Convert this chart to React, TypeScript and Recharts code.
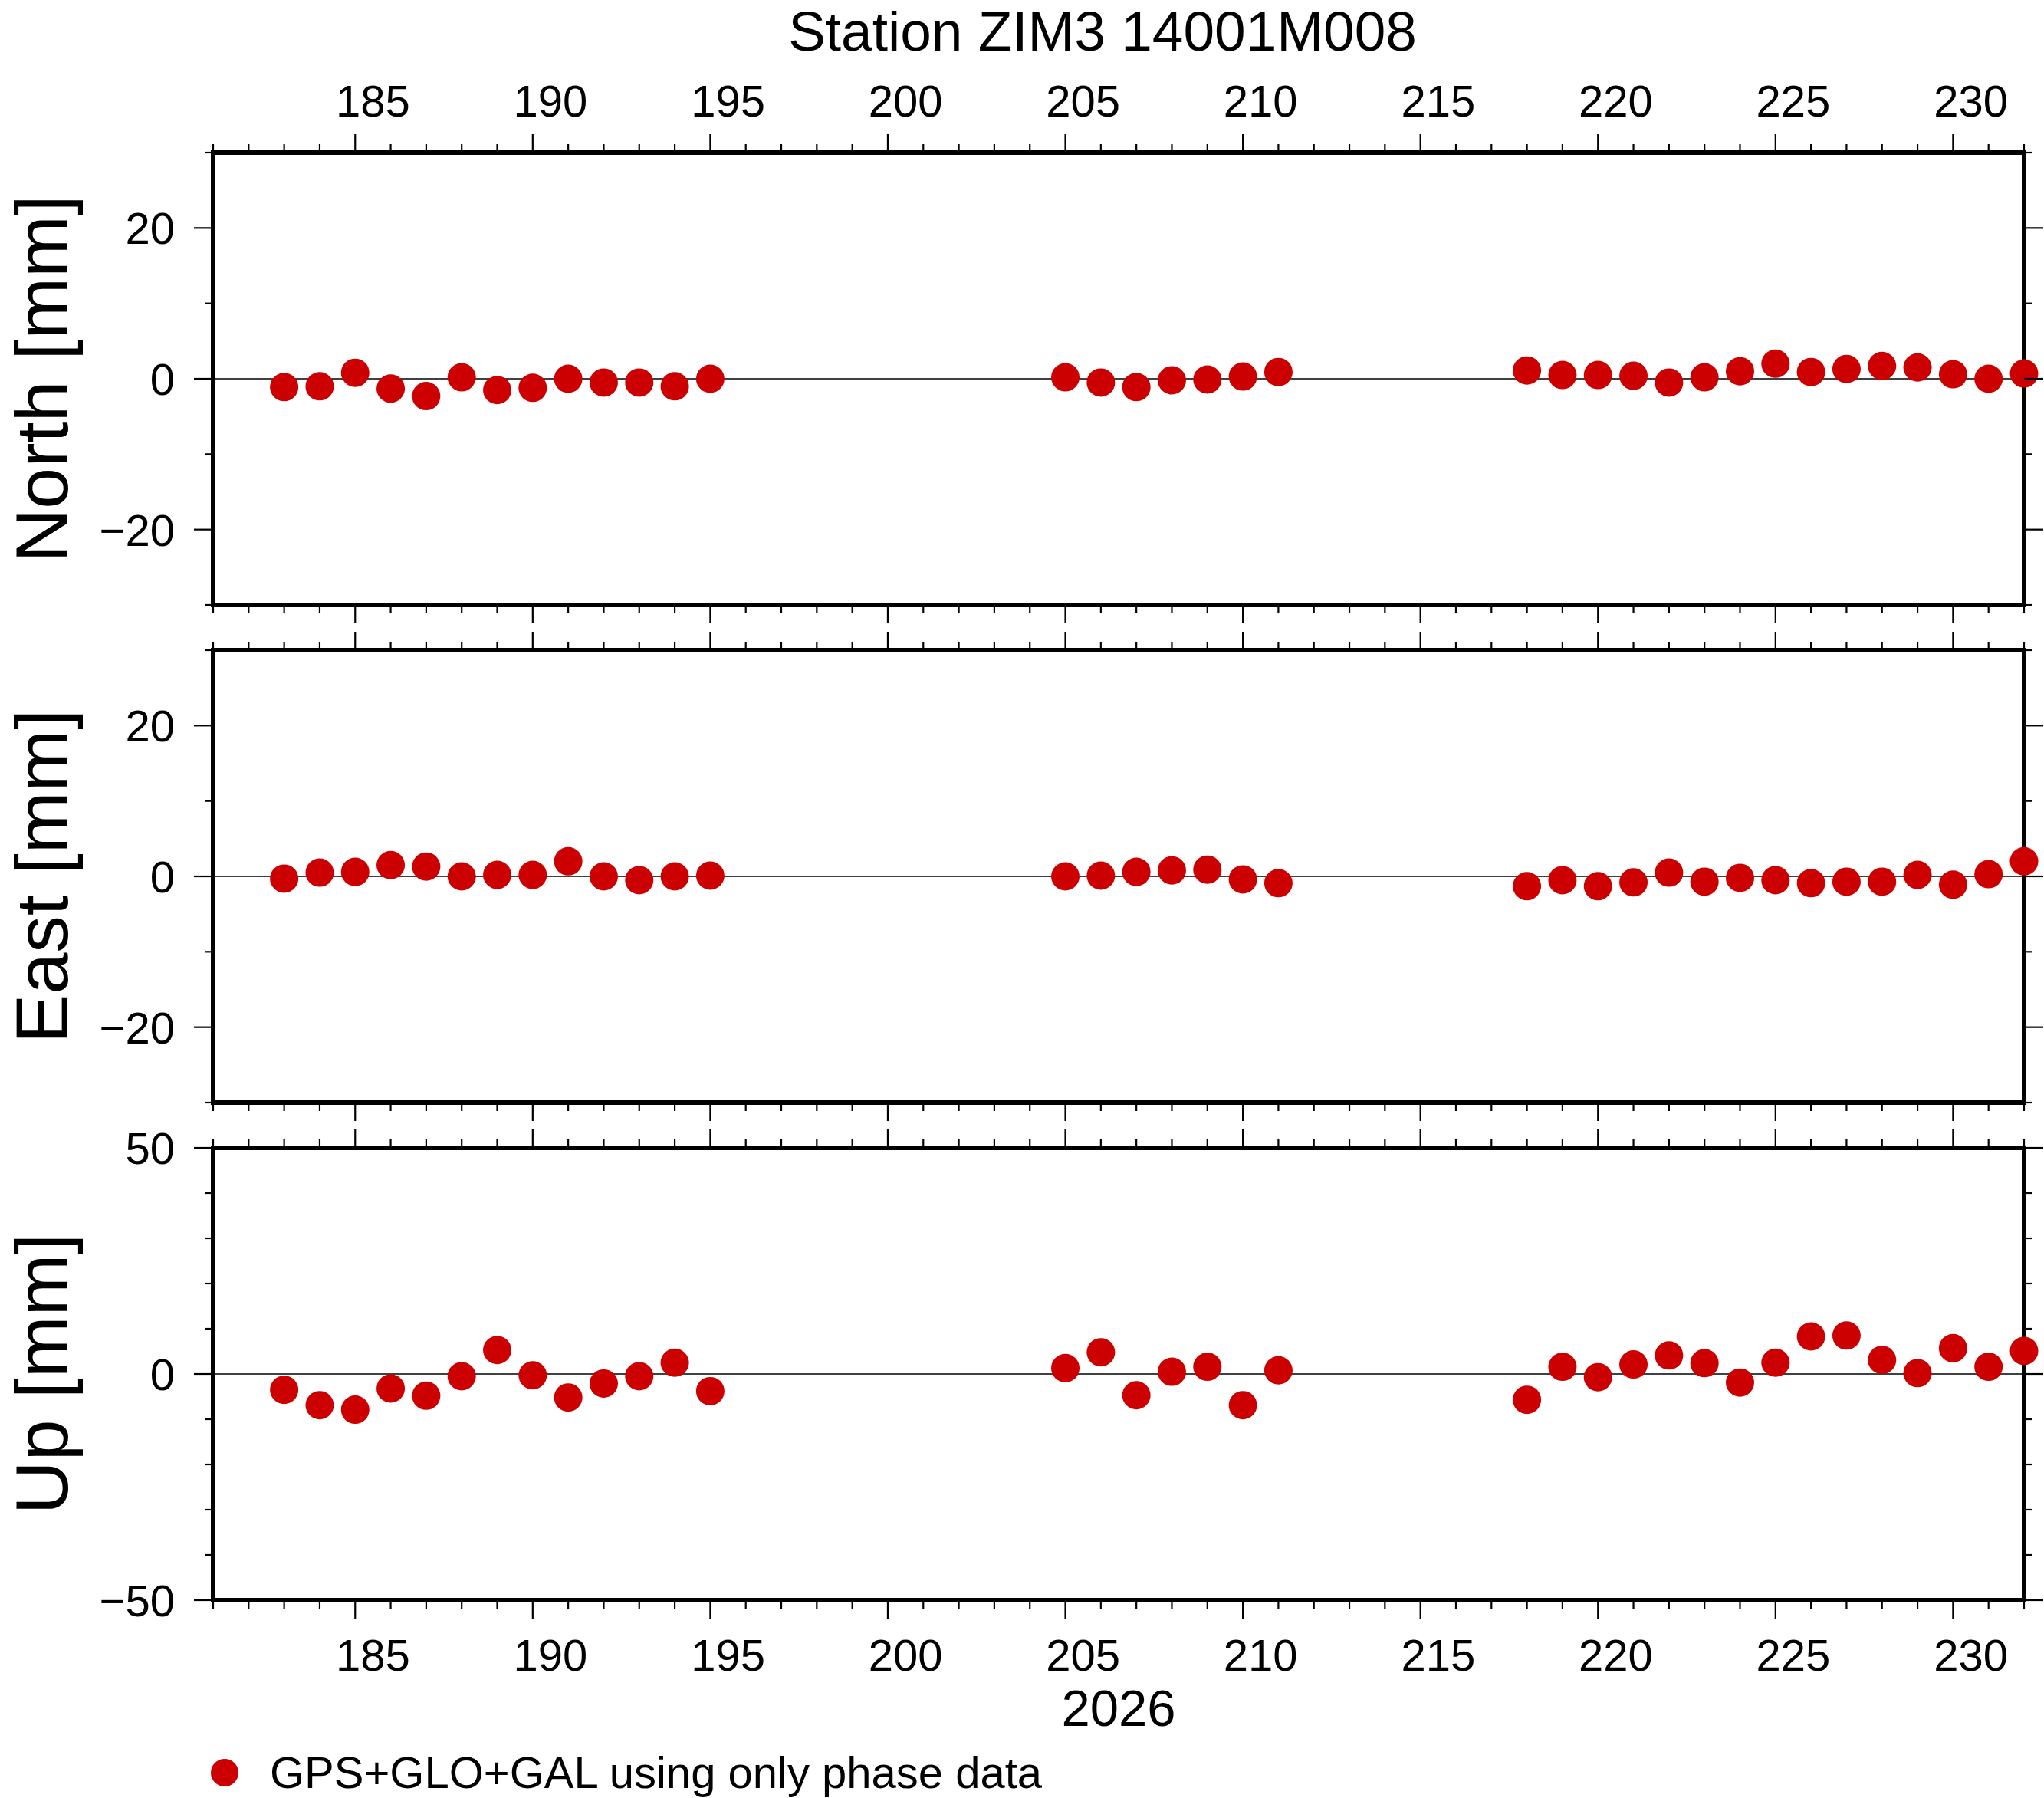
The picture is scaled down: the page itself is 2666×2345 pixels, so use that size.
import React from 'react';
import { ScatterChart, Scatter, XAxis, YAxis, ReferenceLine, ReferenceArea } from 'recharts';

// ---------- data ----------
const days = [
  183, 184, 185, 186, 187, 188, 189, 190, 191, 192, 193, 194, 195,
  205, 206, 207, 208, 209, 210, 211,
  218, 219, 220, 221, 222, 223, 224, 225, 226, 227, 228, 229, 230, 231, 232,
];
const northValues = [
  -1.1, -1.0, 0.8, -1.3, -2.3, 0.2, -1.5, -1.2, 0.0, -0.5, -0.5, -1.0, 0.0,
  0.2, -0.5, -1.1, -0.2, -0.1, 0.3, 0.9,
  1.1, 0.5, 0.5, 0.4, -0.5, 0.2, 1.0, 2.0, 0.9, 1.3, 1.7, 1.5, 0.6, 0.0, 0.7,
];
const eastValues = [
  -0.3, 0.5, 0.6, 1.5, 1.3, 0.0, 0.2, 0.2, 2.0, 0.0, -0.5, 0.0, 0.1,
  0.0, 0.1, 0.6, 0.8, 0.9, -0.4, -0.9,
  -1.3, -0.5, -1.3, -0.8, 0.5, -0.7, -0.2, -0.5, -0.9, -0.7, -0.7, 0.2, -1.1, 0.3, 2.0,
];
const upValues = [
  -3.5, -6.9, -7.9, -3.2, -4.8, -0.5, 5.3, -0.3, -5.2, -2.1, -0.5, 2.5, -3.8,
  1.3, 4.8, -4.7, 0.5, 1.6, -6.9, 0.8,
  -5.7, 1.6, -0.7, 2.1, 4.1, 2.4, -1.9, 2.5, 8.3, 8.5, 3.1, 0.2, 5.7, 1.6, 5.1,
];

const dayDomain = [181, 232];
const dayMajorTicks = [185, 190, 195, 200, 205, 210, 215, 220, 225, 230];
const dayAllTicks = Array.from({ length: dayDomain[1] - dayDomain[0] + 1 }, (_, i) => dayDomain[0] + i);

const neDomain = [-30, 30];
const neTicks = [-30, -20, -10, 0, 10, 20, 30];
const neMajorTicks = [-20, 0, 20];
const upDomain = [-50, 50];
const upTicks = [-50, -40, -30, -20, -10, 0, 10, 20, 30, 40, 50];
const upMajorTicks = [-50, 0, 50];

const titleText = 'Station ZIM3 14001M008';
const yearText = '2026';
const legendText = 'GPS+GLO+GAL using only phase data';
const panelLabels = ['North [mm]', 'East [mm]', 'Up [mm]'];

// ---------- style / layout ----------
const W = 2666;
const H = 2345;
const FONT = '"Liberation Sans", Arial, Helvetica, sans-serif';
const RED = '#cc0000';
const PLOT_LEFT = 278;
const PLOT_RIGHT = 2640;
const HALF_DAY = (PLOT_RIGHT - PLOT_LEFT) / (dayDomain[1] - dayDomain[0]) / 2;
const TICK_FONT = 58;

const fmt = (v: number) => (v < 0 ? '\u2212' + Math.abs(v) : String(v));

const makeXTick = (side: 'top' | 'bottom', labels: boolean) => (props: any) => {
  const { x, y, payload } = props;
  const v = payload.value as number;
  const major = dayMajorTicks.includes(v);
  const len = major ? 24 : 11;
  const dir = side === 'top' ? -1 : 1;
  return (
    <g>
      <line x1={x} x2={x} y1={y} y2={y + dir * len} stroke="#000" strokeWidth={2.2} />
      {labels && major ? (
        <text
          x={x + HALF_DAY}
          y={side === 'top' ? y - 47 : y + 92}
          textAnchor="middle"
          fontSize={TICK_FONT}
          fontFamily={FONT}
          fill="#000"
        >
          {fmt(v)}
        </text>
      ) : null}
    </g>
  );
};

const makeYTick = (side: 'left' | 'right', majors: number[]) => (props: any) => {
  const { x, y, payload } = props;
  const v = payload.value as number;
  const major = majors.includes(v);
  const len = major ? 25 : 11;
  const dir = side === 'left' ? -1 : 1;
  return (
    <g>
      <line x1={x} x2={x + dir * len} y1={y} y2={y} stroke="#000" strokeWidth={2.2} />
      {side === 'left' && major ? (
        <text x={x - 50} y={y + 21} textAnchor="end" fontSize={TICK_FONT} fontFamily={FONT} fill="#000">
          {fmt(v)}
        </text>
      ) : null}
    </g>
  );
};

const dot = (p: any) => <circle cx={p.cx} cy={p.cy} r={18.5} fill={RED} />;

type PanelProps = {
  values: number[];
  yDomain: number[];
  yTicks: number[];
  yMajor: number[];
  top: number;
  height: number;
  topAxisH: number;
  bottomAxisH: number;
  topLabels: boolean;
  bottomLabels: boolean;
};

function Panel(p: PanelProps) {
  const data = days.map((d, i) => ({ day: d, value: p.values[i] }));
  return (
    <div style={{ position: 'absolute', left: 0, top: p.top, width: W, height: p.height }}>
      <ScatterChart width={W} height={p.height} margin={{ top: 0, right: 0, bottom: 0, left: 0 }}>
        <XAxis
          xAxisId="top"
          orientation="top"
          type="number"
          dataKey="day"
          domain={dayDomain}
          ticks={dayAllTicks}
          interval={0}
          height={p.topAxisH}
          axisLine={false}
          tickLine={false}
          tickSize={0}
          tickMargin={0}
          allowDataOverflow
          tick={makeXTick('top', p.topLabels)}
        />
        <XAxis
          xAxisId="bottom"
          orientation="bottom"
          type="number"
          dataKey="day"
          domain={dayDomain}
          ticks={dayAllTicks}
          interval={0}
          height={p.bottomAxisH}
          axisLine={false}
          tickLine={false}
          tickSize={0}
          tickMargin={0}
          tick={makeXTick('bottom', p.bottomLabels)}
        />
        <YAxis
          yAxisId="left"
          orientation="left"
          type="number"
          dataKey="value"
          domain={p.yDomain}
          ticks={p.yTicks}
          interval={0}
          width={PLOT_LEFT}
          axisLine={false}
          tickLine={false}
          tickSize={0}
          tickMargin={0}
          tick={makeYTick('left', p.yMajor)}
        />
        <YAxis
          yAxisId="right"
          orientation="right"
          type="number"
          dataKey="value"
          domain={p.yDomain}
          ticks={p.yTicks}
          interval={0}
          width={W - PLOT_RIGHT}
          axisLine={false}
          tickLine={false}
          tickSize={0}
          tickMargin={0}
          allowDataOverflow
          tick={makeYTick('right', p.yMajor)}
        />
        <ReferenceArea
          xAxisId="bottom"
          yAxisId="left"
          x1={dayDomain[0]}
          x2={dayDomain[1]}
          y1={p.yDomain[0]}
          y2={p.yDomain[1]}
          fill="none"
          fillOpacity={0}
          stroke="#000"
          strokeWidth={6}
        />
        <ReferenceLine xAxisId="bottom" yAxisId="left" y={0} stroke="#000" strokeWidth={1.5} />
        <Scatter
          xAxisId="bottom"
          yAxisId="left"
          data={data}
          dataKey="value"
          fill={RED}
          shape={dot}
          isAnimationActive={false}
        />
      </ScatterChart>
    </div>
  );
}

// panel frame positions (page px)
const panels = [
  { top: 199, bottom: 789 },
  { top: 848, bottom: 1438 },
  { top: 1497, bottom: 2087 },
];
// chart boxes (they may overlap; backgrounds are transparent)
const boxes = [
  { top: 0, bottom: 818 },
  { top: 818, bottom: 1468 },
  { top: 1430, bottom: H },
];

export default function App() {
  const seriesList = [northValues, eastValues, upValues];
  const domains = [neDomain, neDomain, upDomain];
  const tickLists = [neTicks, neTicks, upTicks];
  const majorLists = [neMajorTicks, neMajorTicks, upMajorTicks];
  return (
    <div style={{ position: 'absolute', left: 0, top: 0, width: W, height: H, background: '#fff', overflow: 'hidden' }}>
      {panels.map((pn, i) => (
        <Panel
          key={i}
          values={seriesList[i]}
          yDomain={domains[i]}
          yTicks={tickLists[i]}
          yMajor={majorLists[i]}
          top={boxes[i].top}
          height={boxes[i].bottom - boxes[i].top}
          topAxisH={pn.top - boxes[i].top}
          bottomAxisH={boxes[i].bottom - pn.bottom}
          topLabels={i === 0}
          bottomLabels={i === 2}
        />
      ))}
      <svg
        width={W}
        height={H}
        style={{ position: 'absolute', left: 0, top: 0, pointerEvents: 'none' }}
      >
        <text x={1438} y={66} textAnchor="middle" fontSize={73} fontFamily={FONT} fill="#000">
          {titleText}
        </text>
        <text x={(PLOT_LEFT + PLOT_RIGHT) / 2} y={2251} textAnchor="middle" fontSize={67} fontFamily={FONT} fill="#000">
          {yearText}
        </text>
        {panels.map((pn, i) => {
          const cy = (pn.top + pn.bottom) / 2;
          return (
            <text
              key={i}
              x={88}
              y={cy}
              transform={`rotate(-90 88 ${cy})`}
              textAnchor="middle"
              fontSize={97}
              fontFamily={FONT}
              fill="#000"
            >
              {panelLabels[i]}
            </text>
          );
        })}
        <circle cx={293} cy={2312} r={18} fill={RED} />
        <text x={352} y={2332} fontSize={58} fontFamily={FONT} fill="#000">
          {legendText}
        </text>
      </svg>
    </div>
  );
}
